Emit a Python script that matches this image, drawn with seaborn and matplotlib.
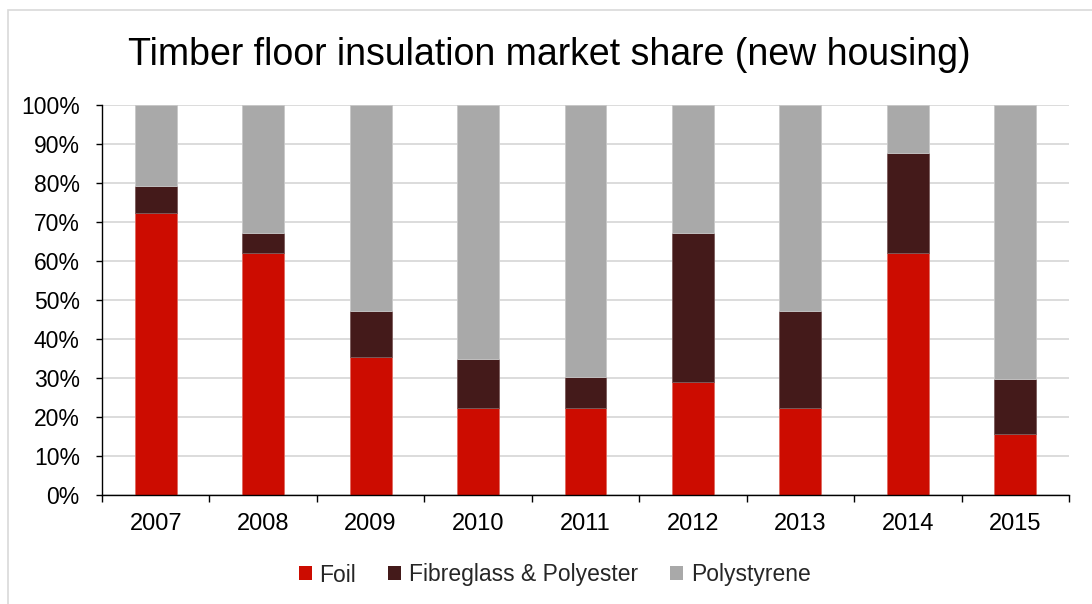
import numpy as np
import pandas as pd
import matplotlib
matplotlib.use("Agg")
import matplotlib.pyplot as plt
import seaborn as sns
from matplotlib.patches import Rectangle
from matplotlib.ticker import PercentFormatter, FixedLocator

years = ["2007", "2008", "2009", "2010", "2011", "2012", "2013", "2014", "2015"]
foil = [72.2, 62.0, 35.5, 22.2, 22.2, 28.9, 22.2, 62.0, 15.6]
fibreglass = [7.1, 5.1, 11.7, 12.7, 8.1, 38.2, 25.0, 25.6, 14.1]
polystyrene = [100 - a - b for a, b in zip(foil, fibreglass)]
series_names = ["Foil", "Fibreglass & Polyester", "Polystyrene"]
colors = ["#CC0C00", "#441A1A", "#A9A9A9"]
edge_colors = ["#E06A60", "#7A5A5A", "#C8C8C8"]

sns.set_theme(style="white")
plt.rcParams["font.family"] = ["Liberation Sans", "DejaVu Sans"]

fig = plt.figure(figsize=(10.92, 6.04), dpi=100)
ax = fig.add_axes([102/1092, 1 - 495/604, (1069 - 102)/1092, 390/604])

df = pd.DataFrame({"year": years, "foil": foil, "fib": fibreglass, "poly": polystyrene})
bottoms = [np.zeros(len(years)), np.array(foil), np.array(foil) + np.array(fibreglass)]
cols = ["foil", "fib", "poly"]
for col, name, c, ec, b in zip(cols, series_names, colors, edge_colors, bottoms):
    sns.barplot(data=df, x="year", y=col, color=c, label=name, width=0.39,
                bottom=b, ax=ax, edgecolor=ec, linewidth=0.6, saturation=1)

ax.set_ylim(0, 100)
ax.set_xlim(-0.5, len(years) - 0.5)
ax.yaxis.set_major_locator(FixedLocator(np.arange(0, 101, 10)))
ax.yaxis.set_major_formatter(PercentFormatter(decimals=0))
ax.set_axisbelow(True)
ax.yaxis.grid(True, color="#D9D9D9", linewidth=1.3)
ax.xaxis.grid(False)
ax.set_xlabel("")
ax.set_ylabel("")

for s in ["top", "right"]:
    ax.spines[s].set_visible(False)
for s in ["left", "bottom"]:
    ax.spines[s].set_color("black")
    ax.spines[s].set_linewidth(1.0)

ax.tick_params(axis="y", which="major", left=True, length=4, width=1, color="black",
               labelsize=16.5, pad=12, labelcolor="black")
ax.tick_params(axis="x", which="major", bottom=False, length=0, labelsize=17, pad=13,
               labelcolor="black")
ax.set_xticks(np.arange(-0.5, len(years), 1.0), minor=True)
ax.tick_params(axis="x", which="minor", bottom=True, length=5, width=1, color="black")

ax.set_title("")
fig.text(0.503, 1 - 55/604, "Timber floor insulation market share (new housing)",
         ha="center", va="center", fontsize=27, color="black")

handles, labels = ax.get_legend_handles_labels()
leg = fig.legend(handles, labels, loc="center", bbox_to_anchor=(0.508, 1 - 575/604),
                 ncol=3, frameon=False, fontsize=16.5, handlelength=0.55, handleheight=0.55,
                 handletextpad=0.35, columnspacing=1.4)
for h in leg.legend_handles:
    h.set_edgecolor("none")
if ax.get_legend() is not None:
    ax.get_legend().remove()

fig.patches.append(Rectangle((8/1092, -0.1), 1.2, 1 - 10/604 + 0.1, transform=fig.transFigure,
                             fill=False, edgecolor="#D9D9D9", linewidth=1.2, zorder=0))

fig.savefig("out.png", dpi=100, facecolor="white")
